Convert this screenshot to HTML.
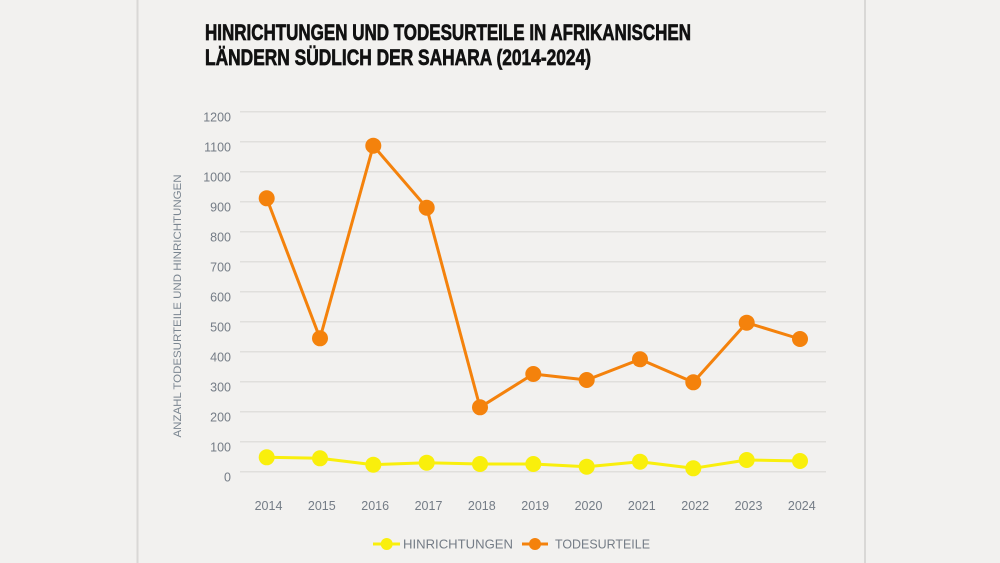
<!DOCTYPE html>
<html>
<head>
<meta charset="utf-8">
<style>
  html, body { margin:0; padding:0; background:#f2f1ef; }
  svg { display:block; }
</style>
</head>
<body>
<svg width="1000" height="563" viewBox="0 0 1000 563" xmlns="http://www.w3.org/2000/svg">
  <rect x="0" y="0" width="1000" height="563" fill="#f2f1ef"/>
  <!-- panel borders -->
  <rect x="136.5" y="0" width="2" height="563" fill="#d9d8d6"/>
  <rect x="864" y="0" width="2" height="563" fill="#d9d8d6"/>

  <!-- title -->
  <g font-family="'Liberation Sans Narrow','Liberation Sans',sans-serif" font-weight="bold" font-size="22" fill="#111" stroke="#111" stroke-width="0.7">
    <text x="205" y="40" textLength="486" lengthAdjust="spacingAndGlyphs">HINRICHTUNGEN UND TODESURTEILE IN AFRIKANISCHEN</text>
    <text x="205" y="65" textLength="386" lengthAdjust="spacingAndGlyphs">LÄNDERN SÜDLICH DER SAHARA (2014-2024)</text>
  </g>

  <!-- gridlines -->
  <g stroke="#e0dfdc" stroke-width="1.5">
    <line x1="240" x2="826" y1="111.7" y2="111.7"/>
    <line x1="240" x2="826" y1="141.7" y2="141.7"/>
    <line x1="240" x2="826" y1="171.7" y2="171.7"/>
    <line x1="240" x2="826" y1="201.7" y2="201.7"/>
    <line x1="240" x2="826" y1="231.7" y2="231.7"/>
    <line x1="240" x2="826" y1="261.7" y2="261.7"/>
    <line x1="240" x2="826" y1="291.7" y2="291.7"/>
    <line x1="240" x2="826" y1="321.7" y2="321.7"/>
    <line x1="240" x2="826" y1="351.7" y2="351.7"/>
    <line x1="240" x2="826" y1="381.7" y2="381.7"/>
    <line x1="240" x2="826" y1="411.7" y2="411.7"/>
    <line x1="240" x2="826" y1="441.7" y2="441.7"/>
    <line x1="240" x2="826" y1="471.7" y2="471.7"/>
  </g>

  <!-- y tick labels -->
  <g font-family="'Liberation Sans',sans-serif" font-size="12.5" fill="#747c86" text-anchor="end">
    <text x="231" y="121.5">1200</text>
    <text x="231" y="151.5">1100</text>
    <text x="231" y="181.5">1000</text>
    <text x="231" y="211.5">900</text>
    <text x="231" y="241.5">800</text>
    <text x="231" y="271.5">700</text>
    <text x="231" y="301.5">600</text>
    <text x="231" y="331.5">500</text>
    <text x="231" y="361.5">400</text>
    <text x="231" y="391.5">300</text>
    <text x="231" y="421.5">200</text>
    <text x="231" y="451.5">100</text>
    <text x="231" y="481.5">0</text>
  </g>

  <!-- axis title -->
  <text transform="translate(181,306) rotate(-90)" text-anchor="middle" font-family="'Liberation Sans',sans-serif" font-size="11" fill="#7a8590" textLength="263" lengthAdjust="spacingAndGlyphs">ANZAHL TODESURTEILE UND HINRICHTUNGEN</text>

  <!-- x tick labels -->
  <g font-family="'Liberation Sans',sans-serif" font-size="12.5" fill="#747c86" text-anchor="middle">
    <text x="268.5" y="510">2014</text>
    <text x="321.8" y="510">2015</text>
    <text x="375.2" y="510">2016</text>
    <text x="428.5" y="510">2017</text>
    <text x="481.8" y="510">2018</text>
    <text x="535.2" y="510">2019</text>
    <text x="588.5" y="510">2020</text>
    <text x="641.8" y="510">2021</text>
    <text x="695.2" y="510">2022</text>
    <text x="748.5" y="510">2023</text>
    <text x="801.8" y="510">2024</text>
  </g>

  <!-- yellow series: Hinrichtungen -->
  <polyline fill="none" stroke="#f9ef0c" stroke-width="3" stroke-linejoin="round"
    points="266.7,457.3 320,458.3 373.3,464.7 426.7,462.7 480,464 533.3,464 586.7,466.7 640,461.7 693.3,468.3 746.7,460 800,461"/>
  <g fill="#f9ef0c">
    <circle cx="266.7" cy="457.3" r="8"/>
    <circle cx="320" cy="458.3" r="8"/>
    <circle cx="373.3" cy="464.7" r="8"/>
    <circle cx="426.7" cy="462.7" r="8"/>
    <circle cx="480" cy="464" r="8"/>
    <circle cx="533.3" cy="464" r="8"/>
    <circle cx="586.7" cy="466.7" r="8"/>
    <circle cx="640" cy="461.7" r="8"/>
    <circle cx="693.3" cy="468.3" r="8"/>
    <circle cx="746.7" cy="460" r="8"/>
    <circle cx="800" cy="461" r="8"/>
  </g>

  <!-- orange series: Todesurteile -->
  <polyline fill="none" stroke="#f4820c" stroke-width="3" stroke-linejoin="round"
    points="266.7,198.3 320,338.3 373.3,145.7 426.7,207.7 480,407.3 533.3,374 586.7,380 640,359.3 693.3,382.3 746.7,322.7 800,339"/>
  <g fill="#f4820c">
    <circle cx="266.7" cy="198.3" r="8"/>
    <circle cx="320" cy="338.3" r="8"/>
    <circle cx="373.3" cy="145.7" r="8"/>
    <circle cx="426.7" cy="207.7" r="8"/>
    <circle cx="480" cy="407.3" r="8"/>
    <circle cx="533.3" cy="374" r="8"/>
    <circle cx="586.7" cy="380" r="8"/>
    <circle cx="640" cy="359.3" r="8"/>
    <circle cx="693.3" cy="382.3" r="8"/>
    <circle cx="746.7" cy="322.7" r="8"/>
    <circle cx="800" cy="339" r="8"/>
  </g>

  <!-- legend -->
  <line x1="373" x2="400" y1="544" y2="544" stroke="#f9ef0c" stroke-width="3"/>
  <circle cx="386.7" cy="544" r="6" fill="#f9ef0c"/>
  <line x1="522" x2="548" y1="544" y2="544" stroke="#f4820c" stroke-width="3"/>
  <circle cx="535" cy="544" r="6" fill="#f4820c"/>
  <g font-family="'Liberation Sans',sans-serif" font-size="12.5" fill="#747c86">
    <text x="403" y="548.5" textLength="110" lengthAdjust="spacingAndGlyphs">HINRICHTUNGEN</text>
    <text x="555" y="548.5" textLength="95" lengthAdjust="spacingAndGlyphs">TODESURTEILE</text>
  </g>
</svg>
</body>
</html>
